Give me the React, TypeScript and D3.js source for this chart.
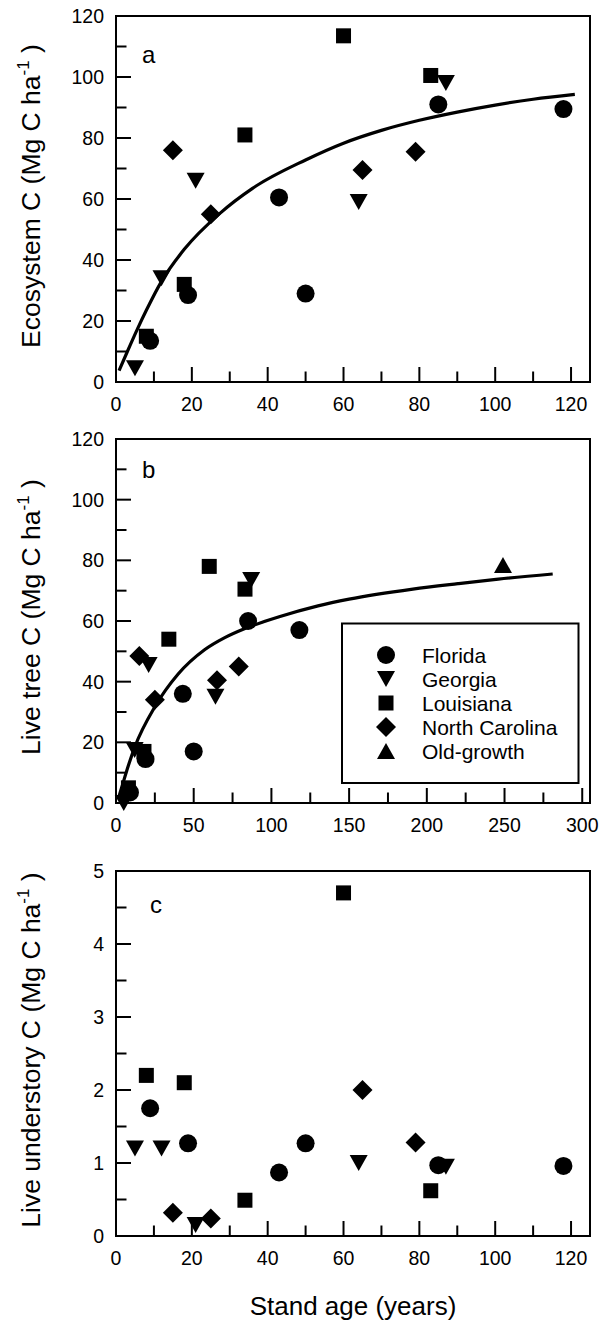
import React from "react";
import * as d3 from "d3";

// ---------- data ----------
const SITES = ["Florida", "Georgia", "Louisiana", "North Carolina", "Old-growth"];
const SHAPES = ["circle", "triDown", "square", "diamond", "triUp"];

const ageFlorida = [9, 19, 43, 50, 85, 118];
const ecoFlorida = [13.5, 28.5, 60.5, 29, 91, 89.5];
const treeFlorida = [3.5, 14.5, 36, 17, 60, 57];
const underFlorida = [1.75, 1.27, 0.87, 1.27, 0.97, 0.96];

const ageGeorgia = [5, 12, 21, 64, 87];
const ecoGeorgia = [4.5, 34, 66, 59, 98];
const treeGeorgia = [0, 17.5, 45.5, 35, 73.5];
const underGeorgia = [1.2, 1.2, 0.15, 1.0, 0.95];

const ageLouisiana = [8, 18, 34, 60, 83];
const ecoLouisiana = [15, 32, 81, 113.5, 100.5];
const treeLouisiana = [5, 17, 54, 78, 70.5];
const underLouisiana = [2.2, 2.1, 0.49, 4.7, 0.62];

const ageNC = [15, 25, 65, 79];
const ecoNC = [76, 55, 69.5, 75.5];
const treeNC = [48.5, 34, 40.5, 45];
const underNC = [0.32, 0.24, 2.0, 1.28];

const ageOld = [249];
const treeOld = [78.5];

// fitted curves, points
const fitAgeA = [0.8, 3, 5.7, 8, 12, 18, 27.4, 36, 50, 60, 70, 80, 90, 100, 110, 121];
const fitEcoA = [3.7, 10, 17.5, 23.5, 33, 43.5, 55.3, 63.5, 72.8, 78.3, 82.5, 85.8, 88.5, 90.8, 92.7, 94.3];
const fitAgeB = [1.5, 3.6, 7, 12.2, 25, 40, 57, 70, 83, 105, 130, 150, 191, 220, 246, 281];
const fitTreeB = [1.5, 5, 10.8, 18.6, 31.7, 42.5, 50.5, 54.5, 57.5, 61.4, 65, 67.2, 70.5, 72.3, 73.8, 75.5];

// axis ticks
const xTicksAC = [0, 20, 40, 60, 80, 100, 120];
const xMinorAC = [10, 30, 50, 70, 90, 110];
const xTicksB = [0, 50, 100, 150, 200, 250, 300];
const xMinorB = [25, 75, 125, 175, 225, 275];
const yTicksAB = [0, 20, 40, 60, 80, 100, 120];
const yMinorAB = [10, 30, 50, 70, 90, 110];
const yTicksC = [0, 1, 2, 3, 4, 5];
const yMinorC = [0.5, 1.5, 2.5, 3.5, 4.5];

// ---------- layout ----------
const FONT = "'Liberation Sans', Arial, Helvetica, sans-serif";
const X0 = 116, X1 = 590;
const MAJ = 15, MIN = 10.5;

type Series = { shape: string; ages: number[]; vals: number[] };

function Marker({ shape, cx, cy }: { shape: string; cx: number; cy: number }) {
  if (shape === "circle") return <circle cx={cx} cy={cy} r={9} fill="#000" />;
  if (shape === "square") return <rect x={cx - 7.5} y={cy - 7.5} width={15} height={15} fill="#000" />;
  if (shape === "diamond")
    return <path d={`M${cx},${cy - 10}L${cx + 10},${cy}L${cx},${cy + 10}L${cx - 10},${cy}Z`} fill="#000" />;
  if (shape === "triDown")
    return <path d={`M${cx - 9},${cy - 8}L${cx + 9},${cy - 8}L${cx},${cy + 8}Z`} fill="#000" />;
  return <path d={`M${cx - 9},${cy + 8}L${cx + 9},${cy + 8}L${cx},${cy - 8}Z`} fill="#000" />;
}

function Panel(props: {
  top: number; bottom: number; xDomain: [number, number]; yDomain: [number, number];
  xTicks: number[]; xMinor: number[]; yTicks: number[]; yMinor: number[];
  series: Series[]; fitX?: number[]; fitY?: number[]; letter: string; letterX: number; letterY: number;
  title: string; titleY: number;
}) {
  const { top, bottom } = props;
  const x = d3.scaleLinear().domain(props.xDomain).range([X0, X1]);
  const y = d3.scaleLinear().domain(props.yDomain).range([bottom, top]);
  let fitPath: string | null = null;
  if (props.fitX && props.fitY) {
    const pts = props.fitX.map((v, i) => [v, props.fitY![i]] as [number, number]);
    fitPath = d3.line<[number, number]>().x((d) => x(d[0])).y((d) => y(d[1])).curve(d3.curveMonotoneX)(pts);
  }
  return (
    <g>
      {fitPath && <path d={fitPath} fill="none" stroke="#000" strokeWidth={3.2} />}
      {props.series.map((s, si) =>
        s.ages.map((a, i) => <Marker key={si + "-" + i} shape={s.shape} cx={x(a)} cy={y(s.vals[i])} />)
      )}
      <rect x={X0} y={top} width={X1 - X0} height={bottom - top} fill="none" stroke="#000" strokeWidth={2} />
      {props.xTicks.map((t) => (
        <g key={"xt" + t}>
          <line x1={x(t)} x2={x(t)} y1={bottom} y2={bottom - MAJ} stroke="#000" strokeWidth={2} />
          <text x={x(t)} y={bottom + 22} textAnchor="middle" dominantBaseline="central" fontSize={19.5} fontFamily={FONT}>
            {t}
          </text>
        </g>
      ))}
      {props.xMinor.map((t) => (
        <line key={"xm" + t} x1={x(t)} x2={x(t)} y1={bottom} y2={bottom - MIN} stroke="#000" strokeWidth={2} />
      ))}
      {props.yTicks.map((t) => (
        <g key={"yt" + t}>
          <line x1={X0} x2={X0 + MAJ} y1={y(t)} y2={y(t)} stroke="#000" strokeWidth={2} />
          <text x={104} y={y(t)} textAnchor="end" dominantBaseline="central" fontSize={19.5} fontFamily={FONT}>
            {t}
          </text>
        </g>
      ))}
      {props.yMinor.map((t) => (
        <line key={"ym" + t} x1={X0} x2={X0 + MIN} y1={y(t)} y2={y(t)} stroke="#000" strokeWidth={2} />
      ))}
      <text x={props.letterX} y={props.letterY} fontSize={24} fontFamily={FONT}>
        {props.letter}
      </text>
      <text transform={`translate(40,${props.titleY}) rotate(-90)`} textAnchor="middle" fontSize={26.5} fontFamily={FONT}>
        {props.title} (Mg C ha
        <tspan dy={-11} fontSize={17}>-1</tspan>
        <tspan dy={11}> )</tspan>
      </text>
    </g>
  );
}

export default function App() {
  const seriesA: Series[] = [
    { shape: SHAPES[0], ages: ageFlorida, vals: ecoFlorida },
    { shape: SHAPES[1], ages: ageGeorgia, vals: ecoGeorgia },
    { shape: SHAPES[2], ages: ageLouisiana, vals: ecoLouisiana },
    { shape: SHAPES[3], ages: ageNC, vals: ecoNC },
  ];
  const seriesB: Series[] = [
    { shape: SHAPES[0], ages: ageFlorida, vals: treeFlorida },
    { shape: SHAPES[1], ages: ageGeorgia, vals: treeGeorgia },
    { shape: SHAPES[2], ages: ageLouisiana, vals: treeLouisiana },
    { shape: SHAPES[3], ages: ageNC, vals: treeNC },
    { shape: SHAPES[4], ages: ageOld, vals: treeOld },
  ];
  const seriesC: Series[] = [
    { shape: SHAPES[0], ages: ageFlorida, vals: underFlorida },
    { shape: SHAPES[1], ages: ageGeorgia, vals: underGeorgia },
    { shape: SHAPES[2], ages: ageLouisiana, vals: underLouisiana },
    { shape: SHAPES[3], ages: ageNC, vals: underNC },
  ];
  const legendY = d3.scaleLinear().domain([0, 4]).range([655, 751]);
  return (
    <svg width={602} height={1323} style={{ position: "absolute", left: 0, top: 0, background: "#fff" }}>
      <rect width={602} height={1323} fill="#fff" />
      <Panel top={16} bottom={382} xDomain={[0, 125]} yDomain={[0, 120]} xTicks={xTicksAC} xMinor={xMinorAC}
        yTicks={yTicksAB} yMinor={yMinorAB} series={seriesA} fitX={fitAgeA} fitY={fitEcoA}
        letter="a" letterX={142} letterY={63} title="Ecosystem C" titleY={196} />
      <Panel top={439} bottom={803} xDomain={[0, 305]} yDomain={[0, 120]} xTicks={xTicksB} xMinor={xMinorB}
        yTicks={yTicksAB} yMinor={yMinorAB} series={seriesB} fitX={fitAgeB} fitY={fitTreeB}
        letter="b" letterX={142} letterY={478} title="Live tree C" titleY={617} />
      <Panel top={871} bottom={1236} xDomain={[0, 125]} yDomain={[0, 5]} xTicks={xTicksAC} xMinor={xMinorAC}
        yTicks={yTicksC} yMinor={yMinorC} series={seriesC}
        letter="c" letterX={150} letterY={913} title="Live understory C" titleY={1050} />
      <g>
        <rect x={342} y={623.5} width={236.5} height={159.5} fill="#fff" stroke="#000" strokeWidth={2} />
        {SITES.map((s, i) => (
          <g key={s}>
            <Marker shape={SHAPES[i]} cx={386} cy={legendY(i)} />
            <text x={422} y={legendY(i)} dominantBaseline="central" fontSize={21} fontFamily={FONT}>
              {s}
            </text>
          </g>
        ))}
      </g>
      <text x={353} y={1315} textAnchor="middle" fontSize={26} fontFamily={FONT}>
        Stand age (years)
      </text>
    </svg>
  );
}
